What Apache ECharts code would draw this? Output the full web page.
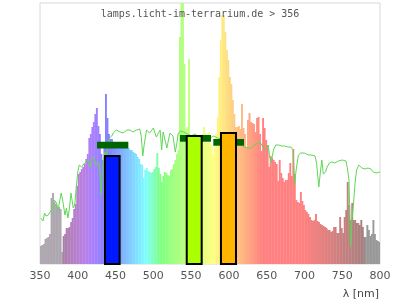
<!DOCTYPE html>
<html><head><meta charset="utf-8">
<script src="https://cdn.jsdelivr.net/npm/echarts@6/dist/echarts.min.js"></script>
<style>html,body{margin:0;padding:0;background:#fff}#c{width:400px;height:300px}</style>
</head><body><div id="c"></div>
<script>
const titleText = 'lamps.licht-im-terrarium.de > 356';
const axisName = 'λ [nm]';
const xMin = 350, xMax = 800, xStep = 50;

// lamp spectrum, 2 nm bins starting at 350 nm
const spectrumStart = 350;
const spectrumStep = 2;
const spectrumValues = [
18,19,20,25,26,27,30,66,71,62,60,56,57,55,12,
28,30,36,36,37,42,46,55,60,78,
90,92,95,97,100,105,110,126,130,137,
142,150,156,138,130,110,104,122,170,146,
130,125,125,122,120,120,118,118,118,116,
119,117,118,116,114,114,112,111,110,107,
105,100,99,86,94,96,93,92,91,92,
95,97,111,96,90,82,88,92,91,89,
88,94,95,100,104,110,114,227,280,280,
200,135,137,205,125,124,122,120,120,122,
123,124,126,137,130,121,132,121,118,110,
124,130,147,187,224,249,249,232,214,204,
187,180,164,150,137,137,138,135,160,136,
130,116,144,151,142,141,140,132,146,147,
130,113,146,136,124,119,97,108,106,104,
102,100,83,104,91,86,82,84,84,91,
101,88,115,90,64,62,61,72,63,59,
54,52,50,47,44,43,44,50,43,42,
40,39,38,37,36,34,34,32,33,37,
37,31,31,47,36,31,47,54,82,59,
44,61,44,44,41,41,39,44,37,27,
27,39,34,28,30,44,30,24,23,22
];

// reference (daylight) curve
const daylightWl = [351,354,356,358,361,363,365,367,369,372,374,376,378,380,383,385,387,389,391,394,396,398,400,402,405,407,409,411,413,416,418,420,422,424,427,429,431,433,436,438,440,442,445,447,451,456,460,465,469,473,478,482,484,486,488,491,495,500,504,509,511,513,518,520,522,526,529,531,533,536,540,545,550,555,560,565,570,575,580,585,590,595,600,605,610,615,618,621,625,630,634,638,642,645,648,652,654,656,659,662,666,670,674,678,682,685,687,689,692,695,700,705,710,714,716,719,721,723,725,728,730,733,736,740,745,750,755,757,759,761,763,765,767,769,772,776,780,784,788,791,795,800];
const daylightVal = [46,43,51,48,49,48,54,59,64,61,54,56,71,64,49,56,46,56,71,56,59,77,92,99,97,96,101,103,104,97,104,107,104,99,102,96,69,99,112,106,119,126,128,131,134,132,131,134,134,132,134,135,128,108,120,134,131,136,127,134,114,132,116,124,131,128,112,120,131,133,132,130,128,130,127,129,127,126,128,126,125,127,125,124,125,121,118,117,116,116,119,121,121,117,114,119,107,102,114,119,119,118,118,117,117,114,80,94,109,111,111,109,109,108,101,77,91,104,90,92,97,101,102,101,103,104,103,95,84,17,45,61,81,94,99,96,95,96,95,92,91,92];

// measured colour bands
const barFrom = [436, 544.2, 589.5];
const barTo = [455.4, 564, 609.4];
const barValue = [108, 128, 131];
// target levels
const bandFrom = [425.4, 535.3, 579.4];
const bandTo = [466.9, 576.3, 620];
const bandLow = [115.5, 122.3, 118.3];
const bandHigh = [122.3, 129, 125];

const barColors = ['#0019ff', '#aaff00', '#ffb400'];

function wlColor(w) {
  if (w < 380) return 'rgb(174,167,176)';
  if (w >= 781) return 'rgb(153,153,153)';
  let r = 0, g = 0, b = 0;
  if (w < 440) { r = (440 - w) / 60; b = 1; }
  else if (w < 490) { g = (w - 440) / 50; b = 1; }
  else if (w < 510) { g = 1; b = (510 - w) / 20; }
  else if (w < 580) { r = (w - 510) / 70; g = 1; }
  else if (w < 645) { r = 1; g = (645 - w) / 65; }
  else { r = 1; }
  let f = 1;
  if (w < 420) f = 0.3 + 0.7 * (w - 380) / 40;
  else if (w > 700) f = 0.3 + 0.7 * (780 - w) / 80;
  const c = v => Math.round(128 + 127 * v * f);
  return 'rgb(' + c(r) + ',' + c(g) + ',' + c(b) + ')';
}

function clipRect(params, x0, y0, x1, y1) {
  const cs = params.coordSys;
  return echarts.graphic.clipRectByRect(
    {x: x0, y: y0, width: x1 - x0, height: y1 - y0},
    {x: cs.x, y: cs.y, width: cs.width, height: cs.height});
}

const spectrumData = spectrumValues.map((v, i) => [spectrumStart + i * spectrumStep, v]);
const daylightData = daylightWl.map((w, i) => [w, daylightVal[i]]);
const bandData = bandFrom.map((f, i) => [f, bandTo[i], bandLow[i], bandHigh[i]]);
const barData = barFrom.map((f, i) => [f, barTo[i], barValue[i]]);

const chart = echarts.init(document.getElementById('c'), null, {renderer: 'canvas'});
chart.setOption({
  animation: false,
  title: {
    text: titleText, left: 'center', top: 4,
    textStyle: {fontFamily: 'DejaVu Sans Mono', fontSize: 10, fontWeight: 'normal', color: '#555'}
  },
  grid: {left: 40, right: 20, top: 3, bottom: 36, show: true, borderColor: '#d8d8d8', borderWidth: 1, backgroundColor: '#fff'},
  xAxis: {
    type: 'value', min: xMin, max: xMax, interval: xStep,
    axisLine: {show: false}, axisTick: {show: false}, splitLine: {show: false},
    axisLabel: {color: '#555', fontFamily: 'DejaVu Sans', fontSize: 11, margin: 7}
  },
  yAxis: {type: 'value', min: 0, max: 261, show: false},
  graphic: [{
    type: 'text', right: 21, top: 289,
    style: {text: axisName, font: '11px "DejaVu Sans"', fill: '#444'}
  }],
  series: [
    {
      type: 'custom', z: 1, data: spectrumData, encode: {x: 0, y: 1},
      renderItem: function (params, api) {
        const w = api.value(0), v = api.value(1);
        const p0 = api.coord([w, v]);
        const p1 = api.coord([w + spectrumStep, 0]);
        const shape = clipRect(params, p0[0], p0[1], p1[0] + 0.4, p1[1]);
        return shape && {type: 'rect', shape: shape, style: {fill: wlColor(w + 1)}};
      }
    },
    {
      type: 'line', z: 2, data: daylightData, showSymbol: false, symbol: 'none',
      lineStyle: {color: '#5fd855', width: 1}
    },
    {
      type: 'custom', z: 3, data: bandData, encode: {x: [0, 1], y: [2, 3]},
      renderItem: function (params, api) {
        const p0 = api.coord([api.value(0), api.value(3)]);
        const p1 = api.coord([api.value(1), api.value(2)]);
        const shape = clipRect(params, p0[0], p0[1], p1[0], p1[1]);
        return shape && {type: 'rect', shape: shape, style: {fill: '#006400'}};
      }
    },
    {
      type: 'custom', z: 4, data: barData, encode: {x: [0, 1], y: 2},
      renderItem: function (params, api) {
        const p0 = api.coord([api.value(0), api.value(2)]);
        const p1 = api.coord([api.value(1), 0]);
        const shape = clipRect(params, p0[0], p0[1], p1[0], p1[1]);
        return shape && {type: 'rect', shape: shape,
          style: {fill: barColors[params.dataIndex], stroke: '#000', lineWidth: 2}};
      }
    }
  ]
});
</script></body></html>
